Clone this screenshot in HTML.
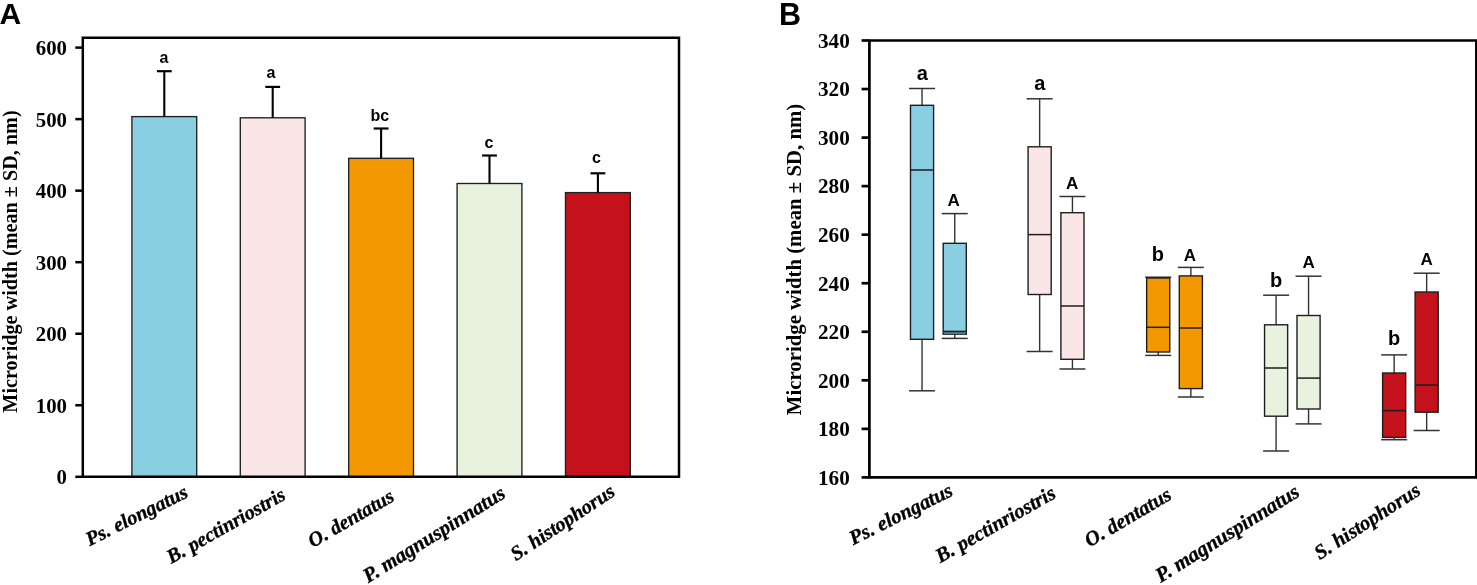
<!DOCTYPE html>
<html><head><meta charset="utf-8"><title>Microridge width</title>
<style>html,body{margin:0;padding:0;background:#fff;overflow:hidden}svg{display:block}</style>
</head><body>
<svg width="1477" height="585" viewBox="0 0 1477 585">
<rect x="0" y="0" width="1477" height="585" fill="#fff"/>
<rect x="131.9" y="116.6" width="64.8" height="360.2" fill="#89cfe1" stroke="#1f1f1f" stroke-width="1.35"/>
<line x1="164.3" y1="71.2" x2="164.3" y2="116.6" stroke="#000" stroke-width="2.1"/>
<line x1="156.9" y1="71.2" x2="171.7" y2="71.2" stroke="#000" stroke-width="2.2"/>
<rect x="240.3" y="117.8" width="64.8" height="359" fill="#fae6e7" stroke="#1f1f1f" stroke-width="1.35"/>
<line x1="272.7" y1="86.9" x2="272.7" y2="117.8" stroke="#000" stroke-width="2.1"/>
<line x1="265.3" y1="86.9" x2="280.1" y2="86.9" stroke="#000" stroke-width="2.2"/>
<rect x="348.7" y="158.3" width="64.8" height="318.5" fill="#f39800" stroke="#1f1f1f" stroke-width="1.35"/>
<line x1="381.1" y1="128.5" x2="381.1" y2="158.3" stroke="#000" stroke-width="2.1"/>
<line x1="373.7" y1="128.5" x2="388.5" y2="128.5" stroke="#000" stroke-width="2.2"/>
<rect x="457.1" y="183.5" width="64.8" height="293.3" fill="#e8f2df" stroke="#1f1f1f" stroke-width="1.35"/>
<line x1="489.5" y1="155.5" x2="489.5" y2="183.5" stroke="#000" stroke-width="2.1"/>
<line x1="482.1" y1="155.5" x2="496.9" y2="155.5" stroke="#000" stroke-width="2.2"/>
<rect x="565.5" y="192.6" width="64.8" height="284.2" fill="#c4111b" stroke="#1f1f1f" stroke-width="1.35"/>
<line x1="597.9" y1="173.3" x2="597.9" y2="192.6" stroke="#000" stroke-width="2.1"/>
<line x1="590.5" y1="173.3" x2="605.3" y2="173.3" stroke="#000" stroke-width="2.2"/>
<path d="M82.8 37.8 H679 V476.8 H82.8 Z" fill="none" stroke="#000" stroke-width="2.5" stroke-linejoin="miter"/>
<line x1="75.3" y1="476.8" x2="82.8" y2="476.8" stroke="#000" stroke-width="2.5"/>
<line x1="75.3" y1="405.27" x2="82.8" y2="405.27" stroke="#000" stroke-width="2.5"/>
<line x1="75.3" y1="333.73" x2="82.8" y2="333.73" stroke="#000" stroke-width="2.5"/>
<line x1="75.3" y1="262.2" x2="82.8" y2="262.2" stroke="#000" stroke-width="2.5"/>
<line x1="75.3" y1="190.67" x2="82.8" y2="190.67" stroke="#000" stroke-width="2.5"/>
<line x1="75.3" y1="119.13" x2="82.8" y2="119.13" stroke="#000" stroke-width="2.5"/>
<line x1="75.3" y1="47.6" x2="82.8" y2="47.6" stroke="#000" stroke-width="2.5"/>
<line x1="922.05" y1="88.5" x2="922.05" y2="390.8" stroke="#333" stroke-width="1.4"/>
<line x1="909.05" y1="88.5" x2="935.05" y2="88.5" stroke="#333" stroke-width="1.5"/>
<line x1="909.05" y1="390.8" x2="935.05" y2="390.8" stroke="#333" stroke-width="1.5"/>
<rect x="910.5" y="105.3" width="23.1" height="234" fill="#89cfe1" stroke="#1e1e1e" stroke-width="1.4"/>
<line x1="910.5" y1="170" x2="933.6" y2="170" stroke="#1e1e1e" stroke-width="1.5"/>
<line x1="954.75" y1="213.6" x2="954.75" y2="338.4" stroke="#333" stroke-width="1.4"/>
<line x1="941.75" y1="213.6" x2="967.75" y2="213.6" stroke="#333" stroke-width="1.5"/>
<line x1="941.75" y1="338.4" x2="967.75" y2="338.4" stroke="#333" stroke-width="1.5"/>
<rect x="943.2" y="243.3" width="23.1" height="90.9" fill="#89cfe1" stroke="#1e1e1e" stroke-width="1.4"/>
<rect x="943.9" y="331.4" width="21.7" height="2.8" fill="#4e7f8a"/>
<line x1="943.2" y1="331.4" x2="966.3" y2="331.4" stroke="#1e1e1e" stroke-width="1.5"/>
<line x1="1039.65" y1="98.8" x2="1039.65" y2="351.5" stroke="#333" stroke-width="1.4"/>
<line x1="1026.65" y1="98.8" x2="1052.65" y2="98.8" stroke="#333" stroke-width="1.5"/>
<line x1="1026.65" y1="351.5" x2="1052.65" y2="351.5" stroke="#333" stroke-width="1.5"/>
<rect x="1028.1" y="146.8" width="23.1" height="147.7" fill="#fae6e7" stroke="#1e1e1e" stroke-width="1.4"/>
<line x1="1028.1" y1="234.6" x2="1051.2" y2="234.6" stroke="#1e1e1e" stroke-width="1.5"/>
<line x1="1072.45" y1="196.5" x2="1072.45" y2="369" stroke="#333" stroke-width="1.4"/>
<line x1="1059.45" y1="196.5" x2="1085.45" y2="196.5" stroke="#333" stroke-width="1.5"/>
<line x1="1059.45" y1="369" x2="1085.45" y2="369" stroke="#333" stroke-width="1.5"/>
<rect x="1060.9" y="212.7" width="23.1" height="146.6" fill="#fae6e7" stroke="#1e1e1e" stroke-width="1.4"/>
<line x1="1060.9" y1="306" x2="1084" y2="306" stroke="#1e1e1e" stroke-width="1.5"/>
<line x1="1158.2" y1="277.2" x2="1158.2" y2="355.4" stroke="#333" stroke-width="1.4"/>
<line x1="1145.2" y1="277.2" x2="1171.2" y2="277.2" stroke="#333" stroke-width="1.5"/>
<line x1="1145.2" y1="355.4" x2="1171.2" y2="355.4" stroke="#333" stroke-width="1.5"/>
<rect x="1146.65" y="278" width="23.1" height="74" fill="#f39800" stroke="#1e1e1e" stroke-width="1.4"/>
<line x1="1146.65" y1="327.3" x2="1169.75" y2="327.3" stroke="#1e1e1e" stroke-width="1.5"/>
<line x1="1190.85" y1="267.4" x2="1190.85" y2="397" stroke="#333" stroke-width="1.4"/>
<line x1="1177.85" y1="267.4" x2="1203.85" y2="267.4" stroke="#333" stroke-width="1.5"/>
<line x1="1177.85" y1="397" x2="1203.85" y2="397" stroke="#333" stroke-width="1.5"/>
<rect x="1179.3" y="275.9" width="23.1" height="112.7" fill="#f39800" stroke="#1e1e1e" stroke-width="1.4"/>
<line x1="1179.3" y1="328" x2="1202.4" y2="328" stroke="#1e1e1e" stroke-width="1.5"/>
<line x1="1276.1" y1="295.2" x2="1276.1" y2="451" stroke="#333" stroke-width="1.4"/>
<line x1="1263.1" y1="295.2" x2="1289.1" y2="295.2" stroke="#333" stroke-width="1.5"/>
<line x1="1263.1" y1="451" x2="1289.1" y2="451" stroke="#333" stroke-width="1.5"/>
<rect x="1264.55" y="324.8" width="23.1" height="91.4" fill="#e8f2df" stroke="#1e1e1e" stroke-width="1.4"/>
<line x1="1264.55" y1="368" x2="1287.65" y2="368" stroke="#1e1e1e" stroke-width="1.5"/>
<line x1="1308.55" y1="276.2" x2="1308.55" y2="423.9" stroke="#333" stroke-width="1.4"/>
<line x1="1295.55" y1="276.2" x2="1321.55" y2="276.2" stroke="#333" stroke-width="1.5"/>
<line x1="1295.55" y1="423.9" x2="1321.55" y2="423.9" stroke="#333" stroke-width="1.5"/>
<rect x="1297" y="315.5" width="23.1" height="93.5" fill="#e8f2df" stroke="#1e1e1e" stroke-width="1.4"/>
<line x1="1297" y1="378.1" x2="1320.1" y2="378.1" stroke="#1e1e1e" stroke-width="1.5"/>
<line x1="1394.15" y1="354.9" x2="1394.15" y2="439.7" stroke="#333" stroke-width="1.4"/>
<line x1="1381.15" y1="354.9" x2="1407.15" y2="354.9" stroke="#333" stroke-width="1.5"/>
<line x1="1381.15" y1="439.7" x2="1407.15" y2="439.7" stroke="#333" stroke-width="1.5"/>
<rect x="1382.6" y="373" width="23.1" height="64.4" fill="#c4111b" stroke="#1e1e1e" stroke-width="1.4"/>
<line x1="1382.6" y1="410.6" x2="1405.7" y2="410.6" stroke="#1e1e1e" stroke-width="1.5"/>
<line x1="1426.65" y1="273.2" x2="1426.65" y2="430.5" stroke="#333" stroke-width="1.4"/>
<line x1="1413.65" y1="273.2" x2="1439.65" y2="273.2" stroke="#333" stroke-width="1.5"/>
<line x1="1413.65" y1="430.5" x2="1439.65" y2="430.5" stroke="#333" stroke-width="1.5"/>
<rect x="1415.1" y="292" width="23.1" height="120.2" fill="#c4111b" stroke="#1e1e1e" stroke-width="1.4"/>
<line x1="1415.1" y1="385" x2="1438.2" y2="385" stroke="#1e1e1e" stroke-width="1.5"/>
<path d="M869.4 40.5 H1476.4 V477.4 H869.4 Z" fill="none" stroke="#000" stroke-width="2.7"/>
<line x1="861.6" y1="40.5" x2="869.4" y2="40.5" stroke="#000" stroke-width="2.7"/>
<line x1="861.6" y1="89.04" x2="869.4" y2="89.04" stroke="#000" stroke-width="2.7"/>
<line x1="861.6" y1="137.59" x2="869.4" y2="137.59" stroke="#000" stroke-width="2.7"/>
<line x1="861.6" y1="186.13" x2="869.4" y2="186.13" stroke="#000" stroke-width="2.7"/>
<line x1="861.6" y1="234.68" x2="869.4" y2="234.68" stroke="#000" stroke-width="2.7"/>
<line x1="861.6" y1="283.22" x2="869.4" y2="283.22" stroke="#000" stroke-width="2.7"/>
<line x1="861.6" y1="331.77" x2="869.4" y2="331.77" stroke="#000" stroke-width="2.7"/>
<line x1="861.6" y1="380.31" x2="869.4" y2="380.31" stroke="#000" stroke-width="2.7"/>
<line x1="861.6" y1="428.86" x2="869.4" y2="428.86" stroke="#000" stroke-width="2.7"/>
<line x1="861.6" y1="477.4" x2="869.4" y2="477.4" stroke="#000" stroke-width="2.7"/>
<g opacity="0.999">
<text x="67" y="484.2" font-family="Liberation Serif" font-weight="bold" font-size="20.8" text-anchor="end">0</text>
<text x="67" y="412.67" font-family="Liberation Serif" font-weight="bold" font-size="20.8" text-anchor="end">100</text>
<text x="67" y="341.13" font-family="Liberation Serif" font-weight="bold" font-size="20.8" text-anchor="end">200</text>
<text x="67" y="269.6" font-family="Liberation Serif" font-weight="bold" font-size="20.8" text-anchor="end">300</text>
<text x="67" y="198.07" font-family="Liberation Serif" font-weight="bold" font-size="20.8" text-anchor="end">400</text>
<text x="67" y="126.53" font-family="Liberation Serif" font-weight="bold" font-size="20.8" text-anchor="end">500</text>
<text x="67" y="55" font-family="Liberation Serif" font-weight="bold" font-size="20.8" text-anchor="end">600</text>
<text x="164" y="62.8" font-family="Liberation Sans" font-weight="bold" font-size="16" text-anchor="middle">a</text>
<text x="270.9" y="77.6" font-family="Liberation Sans" font-weight="bold" font-size="16" text-anchor="middle">a</text>
<text x="379.9" y="121" font-family="Liberation Sans" font-weight="bold" font-size="16" text-anchor="middle">bc</text>
<text x="489" y="147.7" font-family="Liberation Sans" font-weight="bold" font-size="16" text-anchor="middle">c</text>
<text x="596.5" y="162.9" font-family="Liberation Sans" font-weight="bold" font-size="16" text-anchor="middle">c</text>
<text transform="translate(189.4,496.45) rotate(-26.5)" font-family="Liberation Serif" font-weight="bold" font-style="italic" font-size="20.25" text-anchor="end" stroke="#000" stroke-width="0.35">Ps. elongatus</text>
<text transform="translate(286.9,498.7) rotate(-29.5)" font-family="Liberation Serif" font-weight="bold" font-style="italic" font-size="20.25" text-anchor="end" stroke="#000" stroke-width="0.35">B. pectinriostris</text>
<text transform="translate(395.6,500.15) rotate(-30)" font-family="Liberation Serif" font-weight="bold" font-style="italic" font-size="20.25" text-anchor="end" stroke="#000" stroke-width="0.35">O. dentatus</text>
<text transform="translate(506.85,496.7) rotate(-32)" font-family="Liberation Serif" font-weight="bold" font-style="italic" font-size="20.75" text-anchor="end" stroke="#000" stroke-width="0.35">P. magnuspinnatus</text>
<text transform="translate(616.35,494.75) rotate(-33.5)" font-family="Liberation Serif" font-weight="bold" font-style="italic" font-size="20.25" text-anchor="end" stroke="#000" stroke-width="0.35">S. histophorus</text>
<text transform="translate(17.4,261.5) rotate(-90)" font-family="Liberation Serif" font-weight="bold" font-size="20.2" text-anchor="middle">Microridge width (mean ± SD, nm)</text>
<text x="-0.5" y="24" font-family="Liberation Sans" font-weight="bold" font-size="30">A</text>
<text x="849.8" y="47.8" font-family="Liberation Serif" font-weight="bold" font-size="21.2" text-anchor="end">340</text>
<text x="849.8" y="96.34" font-family="Liberation Serif" font-weight="bold" font-size="21.2" text-anchor="end">320</text>
<text x="849.8" y="144.89" font-family="Liberation Serif" font-weight="bold" font-size="21.2" text-anchor="end">300</text>
<text x="849.8" y="193.43" font-family="Liberation Serif" font-weight="bold" font-size="21.2" text-anchor="end">280</text>
<text x="849.8" y="241.98" font-family="Liberation Serif" font-weight="bold" font-size="21.2" text-anchor="end">260</text>
<text x="849.8" y="290.52" font-family="Liberation Serif" font-weight="bold" font-size="21.2" text-anchor="end">240</text>
<text x="849.8" y="339.07" font-family="Liberation Serif" font-weight="bold" font-size="21.2" text-anchor="end">220</text>
<text x="849.8" y="387.61" font-family="Liberation Serif" font-weight="bold" font-size="21.2" text-anchor="end">200</text>
<text x="849.8" y="436.16" font-family="Liberation Serif" font-weight="bold" font-size="21.2" text-anchor="end">180</text>
<text x="849.8" y="484.7" font-family="Liberation Serif" font-weight="bold" font-size="21.2" text-anchor="end">160</text>
<text x="922.3" y="80" font-family="Liberation Sans" font-weight="bold" font-size="20" text-anchor="middle">a</text>
<text x="953.7" y="206" font-family="Liberation Sans" font-weight="bold" font-size="17" text-anchor="middle">A</text>
<text x="1039.9" y="89.6" font-family="Liberation Sans" font-weight="bold" font-size="20" text-anchor="middle">a</text>
<text x="1072.1" y="188.8" font-family="Liberation Sans" font-weight="bold" font-size="17" text-anchor="middle">A</text>
<text x="1157.8" y="260.6" font-family="Liberation Sans" font-weight="bold" font-size="20" text-anchor="middle">b</text>
<text x="1189.9" y="261" font-family="Liberation Sans" font-weight="bold" font-size="17" text-anchor="middle">A</text>
<text x="1276" y="286.8" font-family="Liberation Sans" font-weight="bold" font-size="20" text-anchor="middle">b</text>
<text x="1308.6" y="268.2" font-family="Liberation Sans" font-weight="bold" font-size="17" text-anchor="middle">A</text>
<text x="1394.1" y="344.7" font-family="Liberation Sans" font-weight="bold" font-size="20" text-anchor="middle">b</text>
<text x="1426.6" y="265.4" font-family="Liberation Sans" font-weight="bold" font-size="17" text-anchor="middle">A</text>
<text transform="translate(954.25,494.85) rotate(-26.5)" font-family="Liberation Serif" font-weight="bold" font-style="italic" font-size="20.5" text-anchor="end" stroke="#000" stroke-width="0.35">Ps. elongatus</text>
<text transform="translate(1057.2,497.05) rotate(-29.5)" font-family="Liberation Serif" font-weight="bold" font-style="italic" font-size="20.5" text-anchor="end" stroke="#000" stroke-width="0.35">B. pectinriostris</text>
<text transform="translate(1172.9,498.45) rotate(-30.5)" font-family="Liberation Serif" font-weight="bold" font-style="italic" font-size="20.5" text-anchor="end" stroke="#000" stroke-width="0.35">O. dentatus</text>
<text transform="translate(1301,495.3) rotate(-32)" font-family="Liberation Serif" font-weight="bold" font-style="italic" font-size="21" text-anchor="end" stroke="#000" stroke-width="0.35">P. magnuspinnatus</text>
<text transform="translate(1421.9,493.75) rotate(-33)" font-family="Liberation Serif" font-weight="bold" font-style="italic" font-size="20.5" text-anchor="end" stroke="#000" stroke-width="0.35">S. histophorus</text>
<text transform="translate(800.8,259.5) rotate(-90)" font-family="Liberation Serif" font-weight="bold" font-size="20.8" text-anchor="middle">Microridge width (mean ± SD, nm)</text>
<text x="779" y="24.5" font-family="Liberation Sans" font-weight="bold" font-size="30.5">B</text>
</g>
</svg>
</body></html>
